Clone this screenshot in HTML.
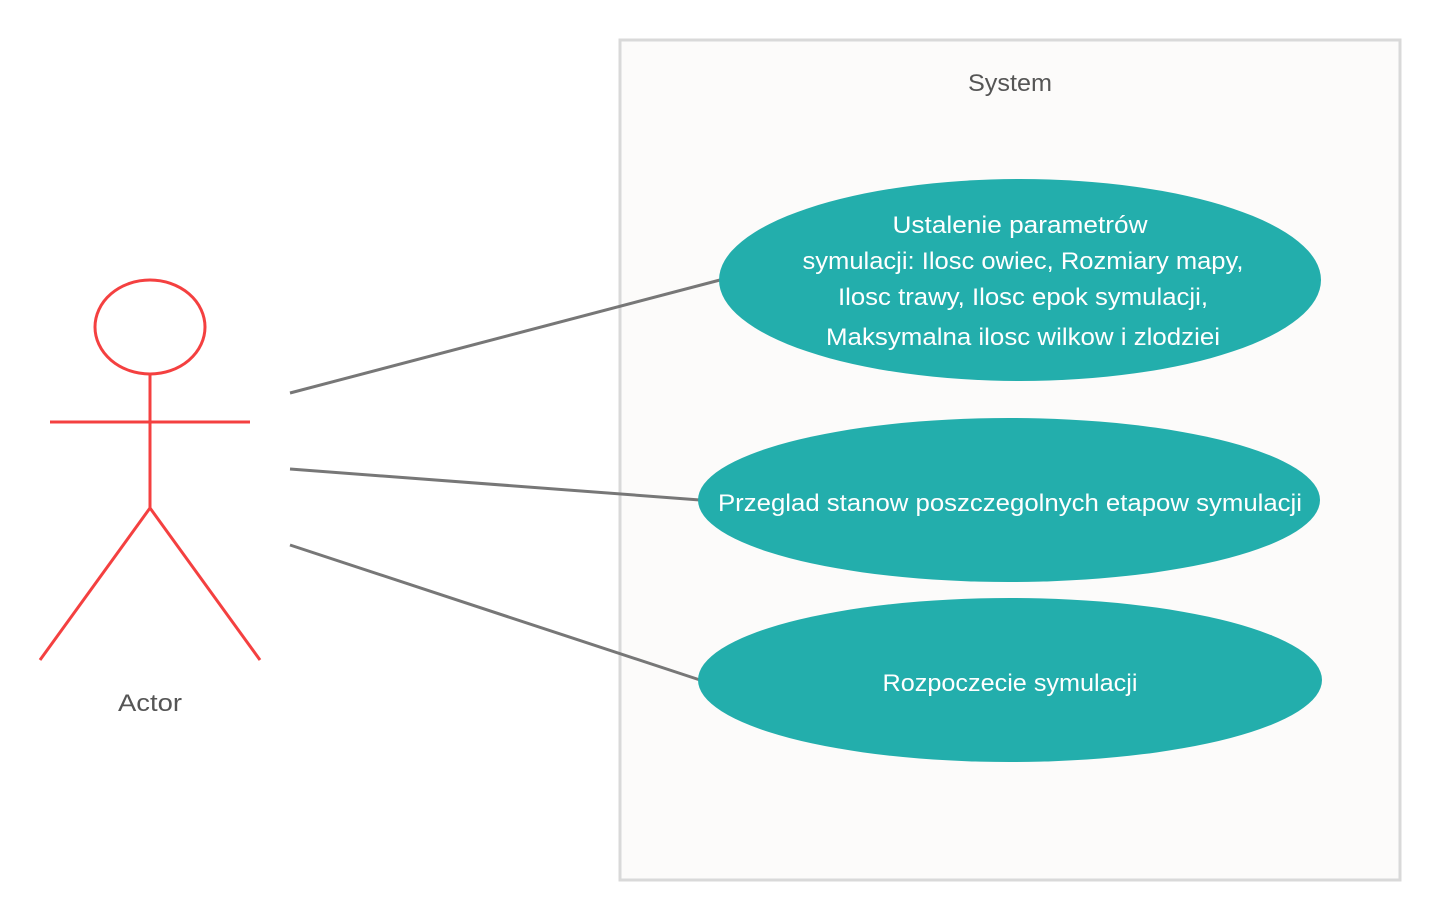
<!DOCTYPE html>
<html><head><meta charset="utf-8"><style>html,body{margin:0;padding:0;background:#fff}svg{display:block}</style></head>
<body>
<svg width="1440" height="920" xmlns="http://www.w3.org/2000/svg" font-family="Liberation Sans, sans-serif">
<rect x="0" y="0" width="1440" height="920" fill="#ffffff"/>
<rect x="620" y="40" width="780" height="840" fill="#fcfbfa" stroke="#d9d9d9" stroke-width="3"/>
<text x="1010" y="91" font-size="24" fill="#555" text-anchor="middle" textLength="84" lengthAdjust="spacingAndGlyphs">System</text>
<g stroke="#777" stroke-width="3" fill="none">
<line x1="290" y1="393" x2="720" y2="280"/>
<line x1="290" y1="469" x2="700" y2="500"/>
<line x1="290" y1="545" x2="700" y2="680"/>
</g>
<ellipse cx="1020" cy="280" rx="301" ry="101" fill="#23aeac"/>
<ellipse cx="1009" cy="500" rx="311" ry="82" fill="#23aeac"/>
<ellipse cx="1010" cy="680" rx="312" ry="82" fill="#23aeac"/>
<g fill="#fff" font-size="24" text-anchor="middle" lengthAdjust="spacingAndGlyphs">
<text x="1020" y="233" textLength="255" lengthAdjust="spacingAndGlyphs">Ustalenie parametrów</text>
<text x="1023" y="269" textLength="441" lengthAdjust="spacingAndGlyphs">symulacji: Ilosc owiec, Rozmiary mapy,</text>
<text x="1023" y="305" textLength="370" lengthAdjust="spacingAndGlyphs">Ilosc trawy, Ilosc epok symulacji,</text>
<text x="1023" y="345" textLength="394" lengthAdjust="spacingAndGlyphs">Maksymalna ilosc wilkow i zlodziei</text>
<text x="1010" y="511" textLength="584" lengthAdjust="spacingAndGlyphs">Przeglad stanow poszczegolnych etapow symulacji</text>
<text x="1010" y="691" textLength="255" lengthAdjust="spacingAndGlyphs">Rozpoczecie symulacji</text>
</g>
<g stroke="#f44040" stroke-width="3" fill="none">
<ellipse cx="150" cy="327" rx="55" ry="47"/>
<line x1="150" y1="374" x2="150" y2="508"/>
<line x1="50" y1="422" x2="250" y2="422"/>
<line x1="150" y1="508" x2="40" y2="660"/>
<line x1="150" y1="508" x2="260" y2="660"/>
</g>
<text x="150" y="711" font-size="24" fill="#555" text-anchor="middle" textLength="64" lengthAdjust="spacingAndGlyphs">Actor</text>
</svg>
</body></html>
